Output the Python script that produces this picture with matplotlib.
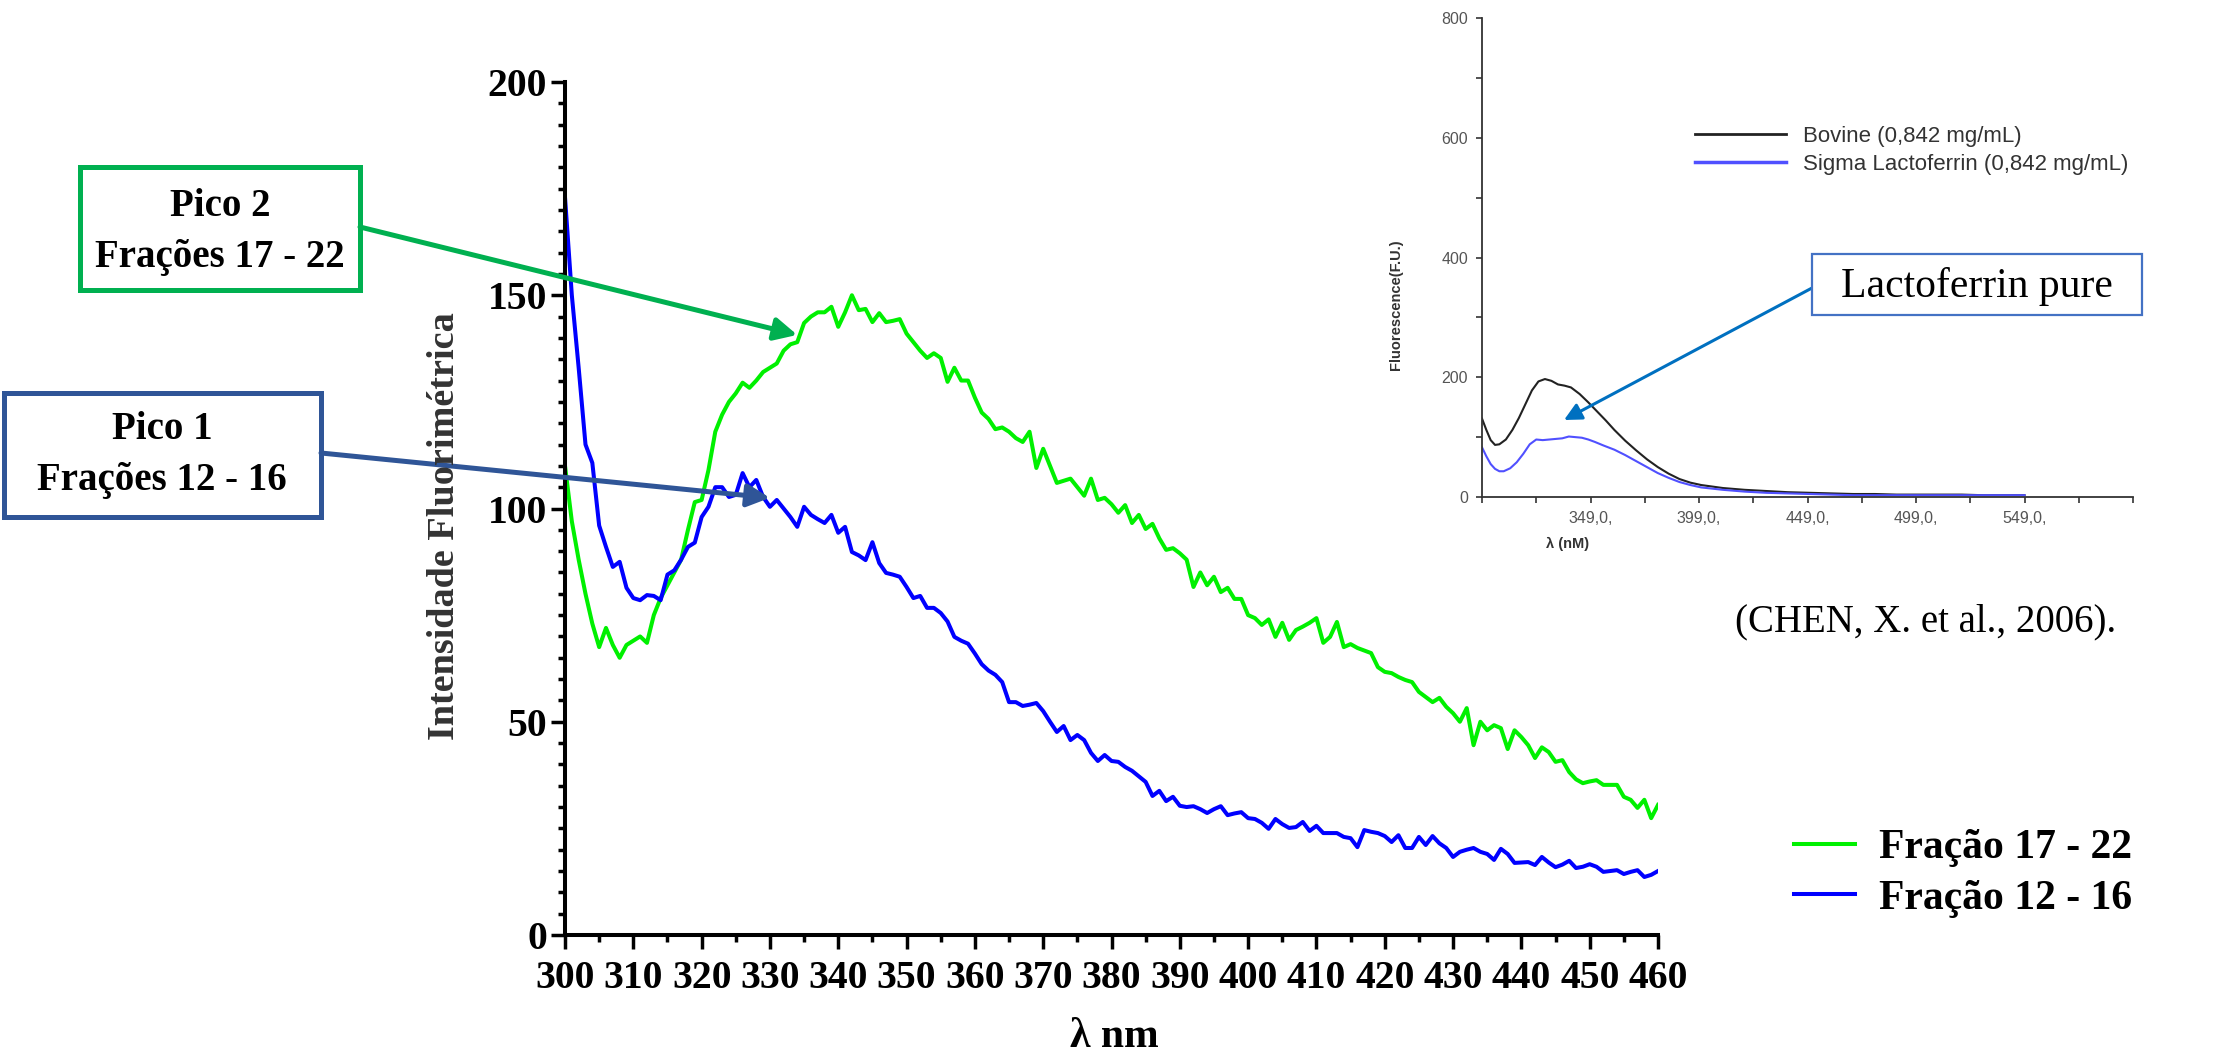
import numpy as np
import matplotlib.pyplot as plt
from matplotlib.patches import Rectangle
from matplotlib.lines import Line2D
from matplotlib.ticker import MultipleLocator, FixedLocator

plt.rcParams['font.family'] = ['Liberation Serif', 'DejaVu Serif']

W, H = 2215, 1052

# main spectra, one point per nm (300..460)
wl = np.arange(300, 461)
frac_17_22 = [110, 97, 88, 80, 73, 67.5, 72, 68, 65, 68,
              69, 70, 68.5, 75, 79, 82, 85, 88, 95, 101.5,
              102, 109, 118, 122, 125, 127, 129.5, 128.3, 130, 132,
              133, 134, 137, 138.5, 139, 143.5, 145, 146, 146, 147.3,
              142.6, 146, 150, 146.5, 146.8, 143.7, 145.8, 143.7, 144, 144.4,
              141, 139, 137, 135.3, 136.4, 135.3, 129.7, 133, 130, 130,
              126, 122.5, 121, 118.6, 119, 118, 116.5, 115.6, 118, 109.5,
              114, 110, 106, 106.5, 107, 105, 103, 107, 102, 102.5,
              101, 99, 100.8, 96.6, 98.5, 95.2, 96.4, 93, 90.3, 90.7,
              89.5, 88, 81.6, 85, 82, 84, 80.4, 81.4, 78.8, 78.8,
              75, 74.3, 72.7, 74, 69.9, 73.2, 69.2, 71.5, 72.3, 73.2,
              74.3, 68.5, 69.9, 73.4, 67.5, 68.2, 67.3, 66.7, 66.1, 62.8,
              61.7, 61.4, 60.5, 59.8, 59.3, 57, 55.8, 54.6, 55.6, 53.5,
              52, 50, 53.2, 44.5, 50, 48, 49.2, 48.5, 43.6, 48,
              46.4, 44.5, 41.5, 44, 42.9, 40.6, 41, 38.2, 36.5, 35.6,
              36, 36.3, 35.2, 35.2, 35.2, 32.4, 31.7, 29.8, 31.7, 27.4,
              30.5]
frac_12_16 = [173, 150, 133, 115, 110.7, 96, 91, 86.3, 87.5, 81.4,
              79, 78.5, 79.7, 79.5, 78.5, 84.5, 85.5, 88, 91, 92,
              98, 100.4, 105, 105, 102.7, 103.2, 108.3, 105, 106.7, 102.7,
              100.4, 102, 100, 98, 95.7, 100.4, 98.5, 97.5, 96.6, 98.5,
              94.3, 95.7, 89.8, 89, 87.9, 92.1, 87.2, 84.9, 84.5, 84,
              81.6, 79, 79.5, 76.7, 76.7, 75.5, 73.5, 69.9, 69, 68.3,
              66, 63.5, 62, 61, 59.3, 54.6, 54.6, 53.7, 54, 54.4,
              52.5, 50, 47.6, 49, 45.7, 46.9, 45.7, 42.7, 40.8, 42.2,
              40.8, 40.6, 39.4, 38.5, 37.2, 35.9, 32.6, 33.8, 31.4, 32.4,
              30.3, 30, 30.2, 29.5, 28.6, 29.5, 30.2, 28.1, 28.5, 28.8,
              27.4, 27.2, 26.3, 24.9, 27.2, 26, 25.1, 25.3, 26.5, 24.4,
              25.6, 23.9, 23.9, 23.9, 23, 22.7, 20.6, 24.6, 24.2, 23.9,
              23.2, 21.8, 23.4, 20.4, 20.4, 23, 21.1, 23.2, 21.5, 20.4,
              18.3, 19.5, 20, 20.4, 19.5, 19, 17.6, 20.2, 19, 16.9,
              17, 17.1, 16.4, 18.3, 17, 15.9, 16.5, 17.4, 15.7, 16,
              16.6, 16, 14.8, 15, 15.2, 14.3, 14.8, 15.2, 13.6, 14.1,
              15]

# inset (CHEN et al. 2006)
bov_x = [299, 301, 303, 305, 307, 310, 313, 316, 319, 322, 325, 328, 331, 334,
         337, 340, 344, 348, 352, 356, 360, 365, 370, 375, 380, 385, 390, 395,
         400, 410, 420, 430, 440, 450, 460, 470, 480, 490, 500, 510, 520, 530,
         540, 549]
bov_y = [131, 112, 95, 87, 88, 96, 112, 132, 155, 178, 193, 197, 194, 188,
         186, 183, 172, 158, 143, 128, 112, 94, 78, 63, 50, 39, 30, 24,
         20, 15, 12, 10, 8, 7, 6, 5, 5, 4, 4, 4, 4, 3,
         3, 3]
sig_x = [299, 301, 303, 305, 307, 309, 312, 315, 318, 321, 324, 327, 330, 333,
         336, 339, 342, 345, 348, 351, 355, 360, 365, 370, 375, 380, 385, 390,
         395, 400, 410, 420, 430, 440, 450, 460, 470, 480, 490, 500, 520, 540,
         549]
sig_y = [83, 68, 55, 47, 43, 43, 48, 58, 72, 88, 96, 95, 96, 97,
         98, 101, 100, 99, 96, 92, 86, 79, 70, 60, 50, 40, 32, 25,
         20, 16, 12, 9, 7, 6, 5, 4, 3, 3, 3, 3, 3, 3,
         3]
inset_xticks = [349, 399, 449, 499, 549]
inset_xlabels = ['349,0,', '399,0,', '449,0,', '499,0,', '549,0,']


def fx(px):
    return px / W


def fy(py):
    return 1 - py / H


fig = plt.figure(figsize=(W / 100, H / 100), dpi=100)

# ---------------- main chart
ax = fig.add_axes([fx(565), fy(935), (1658 - 565) / W, (935 - 82) / H])
ax.plot(wl, frac_17_22, color='#00f000', lw=2.9, label='Fração 17 - 22')
ax.plot(wl, frac_12_16, color='#0000ff', lw=2.9, label='Fração 12 - 16')
ax.set_xlim(300, 460)
ax.set_ylim(0, 200)
ax.spines['top'].set_visible(False)
ax.spines['right'].set_visible(False)
for s in ['left', 'bottom']:
    ax.spines[s].set_linewidth(2.9)
ax.set_xticks(range(300, 461, 10))
ax.set_yticks(range(0, 201, 50))
ax.xaxis.set_minor_locator(MultipleLocator(5))
ax.yaxis.set_minor_locator(MultipleLocator(5))
ax.tick_params(which='major', length=10, width=2.5, labelsize=28.5)
ax.tick_params(which='minor', length=5, width=2.5)
ax.tick_params(axis='x', which='major', pad=8)
ax.tick_params(axis='y', which='major', pad=3)
for lab in ax.get_xticklabels() + ax.get_yticklabels():
    lab.set_fontweight('bold')

fig.text(fx(445), fy(526), 'Intensidade Fluorimétrica', rotation=90,
         ha='center', va='center', fontsize=27.5, fontweight='bold', color='#333333')
fig.text(fx(1114), fy(1037), 'λ nm', ha='center', va='center',
         fontsize=30, fontweight='bold')

ax.legend(loc='upper left', bbox_to_anchor=(fx(1794), fy(829)),
          bbox_transform=fig.transFigure, frameon=False,
          prop=dict(family='Liberation Serif', weight='bold', size=30),
          handlelength=1.46, handletextpad=0.58, labelspacing=0.3,
          borderpad=0, borderaxespad=0)

# annotation boxes
fig.patches.append(Rectangle((fx(80), fy(290)), 280 / W, 123 / H, transform=fig.transFigure,
                             fill=False, ec='#00b050', lw=3.6))
fig.text(fx(220), fy(232), 'Pico 2\nFrações 17 - 22', ha='center', va='center',
         fontsize=28, fontweight='bold', linespacing=1.52)
fig.patches.append(Rectangle((fx(4), fy(517)), 317 / W, 124 / H, transform=fig.transFigure,
                             fill=False, ec='#2f5597', lw=3.6))
fig.text(fx(162), fy(455), 'Pico 1\nFrações 12 - 16', ha='center', va='center',
         fontsize=28, fontweight='bold', linespacing=1.52)

a1 = ax.annotate('', xy=(334, 140.7), xytext=(fx(360), fy(227)), textcoords='figure fraction',
                 arrowprops=dict(arrowstyle='-|>', color='#00b050', lw=3.6,
                                 mutation_scale=34, shrinkA=0, shrinkB=0),
                 annotation_clip=False)
a2 = ax.annotate('', xy=(330, 102.5), xytext=(fx(321), fy(453)), textcoords='figure fraction',
                 arrowprops=dict(arrowstyle='-|>', color='#2f5597', lw=3.6,
                                 mutation_scale=34, shrinkA=0, shrinkB=0),
                 annotation_clip=False)
for a in (a1, a2):
    a.set_clip_on(False)
    a.arrow_patch.set_clip_on(False)

# ---------------- inset
ax2 = fig.add_axes([fx(1482), fy(497), (2133 - 1482) / W, (497 - 18) / H])
ax2.plot(bov_x, bov_y, color='#222222', lw=1.5)
ax2.plot(sig_x, sig_y, color='#5050ff', lw=1.5)
ax2.set_xlim(299, 599)
ax2.set_ylim(0, 800)
ax2.spines['top'].set_visible(False)
ax2.spines['right'].set_visible(False)
for s in ['left', 'bottom']:
    ax2.spines[s].set_linewidth(1.3)
    ax2.spines[s].set_color('#333333')
ax2.set_yticks(range(0, 801, 200))
ax2.yaxis.set_minor_locator(MultipleLocator(100))
ax2.set_xticks(inset_xticks)
ax2.set_xticklabels(inset_xlabels)
ax2.xaxis.set_minor_locator(FixedLocator(range(299, 600, 25)))
ax2.tick_params(which='both', length=4, width=1.2, color='#333333',
                labelsize=11.5, labelcolor='#555555', pad=6)
for lab in ax2.get_xticklabels() + ax2.get_yticklabels():
    lab.set_family('Liberation Sans')

fig.text(fx(1396), fy(305), 'Fluorescence(F.U.)', rotation=90, ha='center', va='center',
         family='Liberation Sans', fontweight='bold', fontsize=10.5, color='#333333')
fig.text(fx(1568), fy(544), 'λ (nM)', ha='center', va='center',
         family='Liberation Sans', fontweight='bold', fontsize=10.5, color='#333333')

h_bov = Line2D([], [], color='#222222', lw=2)
h_sig = Line2D([], [], color='#5050ff', lw=2.5)
leg2 = ax2.legend([h_bov, h_sig], ['Bovine (0,842 mg/mL)', 'Sigma Lactoferrin (0,842 mg/mL)'],
                  loc='upper left', bbox_to_anchor=(fx(1695), fy(126)),
                  bbox_transform=fig.transFigure, frameon=False,
                  prop=dict(family='Liberation Sans', size=16),
                  handlelength=4.1, handletextpad=0.75, labelspacing=0.32,
                  borderpad=0, borderaxespad=0)
for t in leg2.get_texts():
    t.set_color('#333333')

fig.patches.append(Rectangle((fx(1812), fy(315)), 330 / W, 61 / H, transform=fig.transFigure,
                             fc='white', ec='#4472c4', lw=1.6, zorder=3))
fig.text(fx(1977), fy(286), 'Lactoferrin pure', ha='center', va='center',
         fontsize=30, zorder=4)
a3 = ax2.annotate('', xy=(336.8, 128.6), xytext=(fx(1812), fy(288)), textcoords='figure fraction',
                  arrowprops=dict(arrowstyle='-|>', color='#0070c0', lw=2.2,
                                  mutation_scale=26, shrinkA=0, shrinkB=0),
                  annotation_clip=False)
a3.set_clip_on(False)
a3.arrow_patch.set_clip_on(False)

fig.text(fx(1735), fy(622), '(CHEN, X. et al., 2006).', ha='left', va='center', fontsize=28)

fig.savefig('out.png', dpi=100)
